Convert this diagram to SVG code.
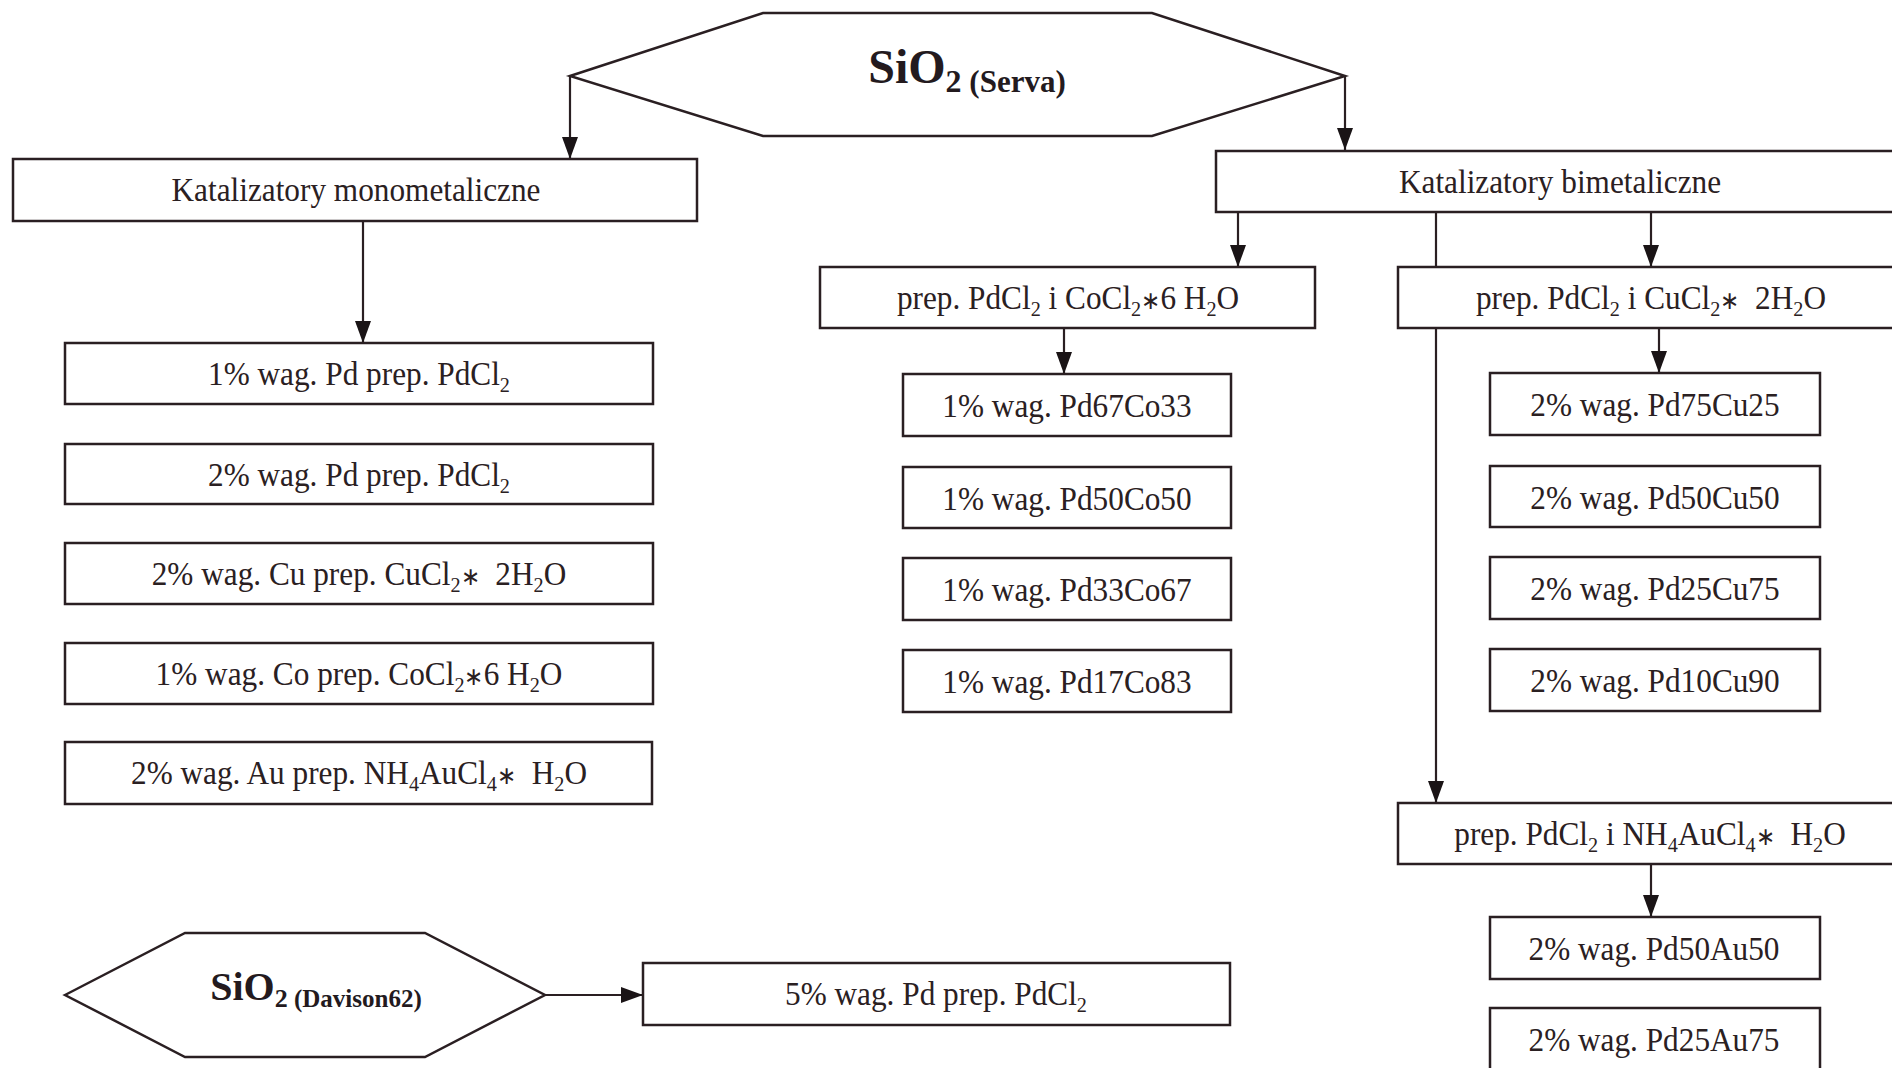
<svg xmlns="http://www.w3.org/2000/svg" width="1892" height="1068" viewBox="0 0 1892 1068">
<style>
.box{fill:#fff;stroke:#2a1f22;stroke-width:2.5}
.hex{fill:#fff;stroke:#2a1f22;stroke-width:2.5}
.t{font-family:"Liberation Serif","Times New Roman",serif;font-size:34px;fill:#2a2022;text-anchor:middle;white-space:pre}
.s{font-size:22px}
.st{font-size:25px}
.big{font-family:"Liberation Serif","Times New Roman",serif;font-weight:bold;fill:#231a1e;text-anchor:middle}
.con{stroke:#2a1f22;stroke-width:2.2;fill:none;marker-end:url(#ah)}
</style>
<defs>
<marker id="ah" markerUnits="userSpaceOnUse" markerWidth="22" markerHeight="16" refX="22" refY="8" orient="auto" viewBox="0 0 22 16">
<path d="M0,0 L22,8 L0,16 z" fill="#1a1416"/>
</marker>
</defs>
<rect width="1892" height="1068" fill="#fff"/>

<g id="connectors">
<path class="con" d="M570,76 V159"/>
<path class="con" d="M1345,76 V150"/>
<path class="con" d="M363,221 V343"/>
<path class="con" d="M1238,212 V267"/>
<path class="con" d="M1651,212 V267"/>
<path class="con" d="M1436,212 V803"/>
<path class="con" d="M1064,328 V374"/>
<path class="con" d="M1659,328 V373"/>
<path class="con" d="M1651,864 V917"/>
<path class="con" d="M545,995 H643"/>
</g>

<g id="sio2-serva">
<polygon class="hex" points="570,76 763,13 1152,13 1345,76 1152,136 763,136"/>
<text class="big" x="967" y="83"><tspan font-size="48">SiO</tspan><tspan font-size="32" dy="9">2</tspan><tspan font-size="31"> (Serva)</tspan></text>
</g>

<g id="mono">
<rect class="box" x="13" y="159" width="684" height="62"/>
<text class="t" transform="translate(356,201) scale(0.92,1)">Katalizatory monometaliczne</text>
</g>
<g id="bimet">
<rect class="box" x="1216" y="151" width="700" height="61"/>
<text class="t" transform="translate(1560,193) scale(0.92,1)">Katalizatory bimetaliczne</text>
</g>

<g id="m1"><rect class="box" x="65" y="343" width="588" height="61"/>
<text class="t" transform="translate(359,385) scale(0.92,1)">1% wag. Pd prep. PdCl<tspan class="s" dy="7">2</tspan></text></g>
<g id="m2"><rect class="box" x="65" y="444" width="588" height="60"/>
<text class="t" transform="translate(359,486) scale(0.92,1)">2% wag. Pd prep. PdCl<tspan class="s" dy="7">2</tspan></text></g>
<g id="m3"><rect class="box" x="65" y="543" width="588" height="61"/>
<text class="t" transform="translate(359,585) scale(0.92,1)">2% wag. Cu prep. CuCl<tspan class="s" dy="7">2</tspan><tspan class="st" dy="-7">∗</tspan><tspan>  2H</tspan><tspan class="s" dy="7">2</tspan><tspan dy="-7">O</tspan></text></g>
<g id="m4"><rect class="box" x="65" y="643" width="588" height="61"/>
<text class="t" transform="translate(359,685) scale(0.92,1)">1% wag. Co prep. CoCl<tspan class="s" dy="7">2</tspan><tspan class="st" dy="-7">∗</tspan><tspan>6 H</tspan><tspan class="s" dy="7">2</tspan><tspan dy="-7">O</tspan></text></g>
<g id="m5"><rect class="box" x="65" y="742" width="587" height="62"/>
<text class="t" transform="translate(359,784) scale(0.92,1)">2% wag. Au prep. NH<tspan class="s" dy="7">4</tspan><tspan dy="-7">AuCl</tspan><tspan class="s" dy="7">4</tspan><tspan class="st" dy="-7">∗</tspan><tspan>  H</tspan><tspan class="s" dy="7">2</tspan><tspan dy="-7">O</tspan></text></g>

<g id="prep-co"><rect class="box" x="820" y="267" width="495" height="61"/>
<text class="t" transform="translate(1068,309) scale(0.92,1)">prep. PdCl<tspan class="s" dy="7">2</tspan><tspan dy="-7"> i CoCl</tspan><tspan class="s" dy="7">2</tspan><tspan class="st" dy="-7">∗</tspan><tspan>6 H</tspan><tspan class="s" dy="7">2</tspan><tspan dy="-7">O</tspan></text></g>
<g id="prep-cu"><rect class="box" x="1398" y="267" width="600" height="61"/>
<text class="t" transform="translate(1651,309) scale(0.92,1)">prep. PdCl<tspan class="s" dy="7">2</tspan><tspan dy="-7"> i CuCl</tspan><tspan class="s" dy="7">2</tspan><tspan class="st" dy="-7">∗</tspan><tspan>  2H</tspan><tspan class="s" dy="7">2</tspan><tspan dy="-7">O</tspan></text></g>

<g id="co1"><rect class="box" x="903" y="374" width="328" height="62"/><text class="t" transform="translate(1067,417) scale(0.92,1)">1% wag. Pd67Co33</text></g>
<g id="co2"><rect class="box" x="903" y="467" width="328" height="61"/><text class="t" transform="translate(1067,510) scale(0.92,1)">1% wag. Pd50Co50</text></g>
<g id="co3"><rect class="box" x="903" y="558" width="328" height="62"/><text class="t" transform="translate(1067,601) scale(0.92,1)">1% wag. Pd33Co67</text></g>
<g id="co4"><rect class="box" x="903" y="650" width="328" height="62"/><text class="t" transform="translate(1067,693) scale(0.92,1)">1% wag. Pd17Co83</text></g>

<g id="cu1"><rect class="box" x="1490" y="373" width="330" height="62"/><text class="t" transform="translate(1655,416) scale(0.92,1)">2% wag. Pd75Cu25</text></g>
<g id="cu2"><rect class="box" x="1490" y="466" width="330" height="61"/><text class="t" transform="translate(1655,509) scale(0.92,1)">2% wag. Pd50Cu50</text></g>
<g id="cu3"><rect class="box" x="1490" y="557" width="330" height="62"/><text class="t" transform="translate(1655,600) scale(0.92,1)">2% wag. Pd25Cu75</text></g>
<g id="cu4"><rect class="box" x="1490" y="649" width="330" height="62"/><text class="t" transform="translate(1655,692) scale(0.92,1)">2% wag. Pd10Cu90</text></g>

<g id="prep-au"><rect class="box" x="1398" y="803" width="600" height="61"/>
<text class="t" transform="translate(1650,845) scale(0.92,1)">prep. PdCl<tspan class="s" dy="7">2</tspan><tspan dy="-7"> i NH</tspan><tspan class="s" dy="7">4</tspan><tspan dy="-7">AuCl</tspan><tspan class="s" dy="7">4</tspan><tspan class="st" dy="-7">∗</tspan><tspan>  H</tspan><tspan class="s" dy="7">2</tspan><tspan dy="-7">O</tspan></text></g>
<g id="au1"><rect class="box" x="1490" y="917" width="330" height="62"/><text class="t" transform="translate(1654,960) scale(0.92,1)">2% wag. Pd50Au50</text></g>
<g id="au2"><rect class="box" x="1490" y="1008" width="330" height="64"/><text class="t" transform="translate(1654,1051) scale(0.92,1)">2% wag. Pd25Au75</text></g>

<g id="sio2-davison">
<polygon class="hex" points="65,995 185,933 425,933 545,995 425,1057 185,1057"/>
<text class="big" x="316" y="1000"><tspan font-size="40">SiO</tspan><tspan font-size="26" dy="7">2</tspan><tspan font-size="25"> (Davison62)</tspan></text>
</g>
<g id="pd5"><rect class="box" x="643" y="963" width="587" height="62"/>
<text class="t" transform="translate(936,1005) scale(0.92,1)">5% wag. Pd prep. PdCl<tspan class="s" dy="7">2</tspan></text></g>
</svg>
